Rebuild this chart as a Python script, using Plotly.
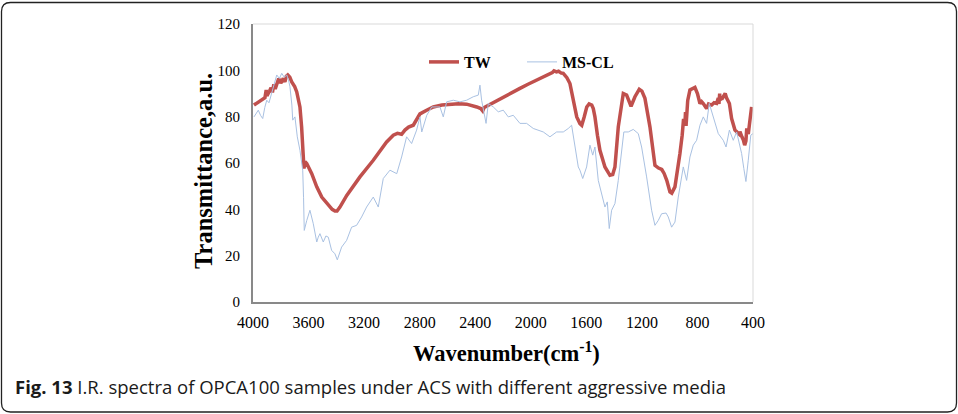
import plotly.graph_objects as go

# ---------------- data ----------------
tw_wn = [3993, 3960, 3930, 3914, 3905, 3900, 3880, 3870, 3860, 3850, 3840, 3829, 3815, 3800,
         3782, 3770, 3760, 3750, 3735, 3721, 3700, 3685, 3662, 3650, 3642, 3636, 3633, 3625,
         3613, 3577, 3541, 3505, 3458, 3430, 3410, 3395, 3374, 3325, 3230, 3134, 3038, 2990,
         2960, 2940, 2930, 2906, 2880, 2846, 2810, 2798, 2750, 2702, 2640, 2582, 2520, 2462,
         2420, 2389, 2360, 2346, 2335, 2320, 2294, 2250, 2198, 2140, 2078, 2020, 1957, 1920,
         1885, 1860, 1845, 1833, 1815, 1800, 1780, 1766, 1740, 1718, 1700, 1694, 1682, 1669,
         1646, 1633, 1615, 1597, 1580, 1561, 1550, 1538, 1520, 1502, 1466, 1430, 1410, 1394,
         1370, 1334, 1310, 1278, 1250, 1219, 1200, 1178, 1142, 1106, 1080, 1057, 1040, 1021,
         998, 985, 962, 945, 926, 910, 900, 890, 886, 882, 878, 870, 854, 818, 800, 782,
         770, 758, 734, 720, 698, 680, 662, 650, 645, 640, 638, 630, 625, 614, 600, 590,
         570, 554, 530, 500, 494, 480, 470, 460, 451, 445, 434, 425, 410, 400]
tw_val = [85.0, 86.5, 87.9, 88.2, 91.5, 89.0, 91.2, 92.5, 90.5, 94.0, 92.0, 94.3, 96.5, 94.5,
          96.5, 95.0, 97.5, 98.0, 97.0, 95.0, 93.0, 90.7, 84.2, 75.6, 67.0, 60.0, 57.6, 60.5,
          59.8, 55.4, 49.7, 45.3, 41.7, 40.0, 39.3, 39.3, 41.0, 46.0, 54.0, 61.2, 69.1, 72.0,
          72.8, 72.6, 72.4, 74.2, 75.5, 76.3, 79.9, 81.2, 82.8, 84.2, 85.0, 85.4, 85.6, 85.4,
          84.9, 84.2, 83.5, 82.5, 84.0, 84.5, 85.4, 86.8, 88.6, 90.3, 92.2, 94.0, 95.8, 96.8,
          97.9, 98.2, 99.0, 99.8, 99.3, 99.6, 98.8, 98.7, 96.8, 94.3, 89.0, 87.1, 83.0, 79.9,
          77.0, 76.3, 80.0, 84.2, 85.5, 85.0, 83.5, 79.9, 72.0, 65.5, 58.3, 54.7, 55.0, 58.3,
          75.6, 90.0, 89.3, 84.5, 88.6, 91.8, 91.0, 87.9, 75.6, 59.0, 57.8, 57.2, 55.5, 52.5,
          47.5, 47.0, 49.7, 56.0, 64.1, 72.0, 79.0, 77.1, 82.0, 76.0, 82.8, 87.0, 91.5, 92.6,
          90.0, 85.7, 86.5, 85.7, 83.5, 85.5, 85.0, 86.0, 85.7, 88.0, 85.5, 90.0, 87.0, 88.6,
          87.5, 88.6, 90.0, 88.0, 85.7, 79.2, 74.2, 72.5, 73.5, 71.3, 70.0, 67.7, 69.5, 74.9,
          72.5, 77.0, 84.2]

ms_wn = [3993, 3980, 3962, 3945, 3930, 3915, 3901, 3885, 3865, 3850, 3829, 3810, 3793, 3775,
         3757, 3745, 3734, 3720, 3714, 3698, 3681, 3662, 3642, 3636, 3631, 3613, 3590, 3566,
         3541, 3530, 3518, 3494, 3475, 3458, 3445, 3434, 3410, 3393, 3362, 3326, 3290, 3254,
         3218, 3182, 3134, 3098, 3062, 3014, 2965, 2930, 2894, 2858, 2822, 2798, 2785, 2749,
         2713, 2654, 2630, 2606, 2558, 2510, 2462, 2414, 2378, 2366, 2354, 2337, 2322, 2306,
         2270, 2234, 2198, 2162, 2126, 2078, 2030, 1982, 1946, 1910, 1862, 1814, 1766, 1730,
         1706, 1694, 1682, 1670, 1658, 1646, 1626, 1598, 1574, 1554, 1538, 1514, 1490, 1466,
         1449, 1435, 1418, 1394, 1370, 1346, 1330, 1298, 1262, 1226, 1202, 1166, 1130, 1106,
         1082, 1058, 1026, 1010, 986, 962, 938, 902, 878, 854, 830, 806, 782, 758, 734, 715,
         686, 650, 614, 594, 570, 542, 518, 482, 466, 451, 434, 416, 400]
ms_val = [79.9, 81.0, 82.8, 80.5, 79.2, 84.0, 87.1, 86.0, 90.0, 93.0, 98.0, 96.5, 98.7, 97.0,
          98.0, 96.0, 92.9, 85.0, 78.5, 79.9, 71.3, 65.5, 56.9, 45.0, 30.9, 35.2, 39.6, 33.8,
          25.9, 28.0, 29.5, 25.9, 28.5, 28.0, 24.5, 22.3, 20.8, 18.2, 23.7, 26.6, 32.3, 33.1,
          36.7, 41.0, 45.3, 41.0, 53.3, 56.9, 55.4, 62.6, 71.3, 68.4, 74.2, 79.9, 73.4, 80.6,
          84.2, 84.2, 79.9, 86.4, 87.1, 86.4, 87.1, 88.6, 89.3, 93.6, 87.1, 81.4, 77.1, 85.7,
          84.2, 82.1, 82.8, 79.9, 80.6, 77.1, 77.1, 74.9, 74.2, 73.4, 71.3, 73.4, 73.4, 74.9,
          76.3, 71.3, 66.9, 61.2, 58.3, 56.9, 53.3, 58.3, 67.7, 63.4, 66.9, 52.5, 46.8, 41.0,
          43.2, 31.7, 39.6, 42.5, 52.5, 65.5, 73.4, 73.4, 74.5, 72.7, 66.9, 54.0, 39.6, 33.1,
          35.2, 38.1, 38.4, 36.7, 32.3, 34.5, 45.3, 58.3, 52.5, 62.6, 67.7, 69.8, 76.3, 79.9,
          77.1, 85.7, 79.9, 72.7, 69.8, 66.9, 74.2, 69.8, 73.4, 64.1, 57.6, 52.0, 61.2, 72.0,
          72.7]

x_ticks = [4000, 3600, 3200, 2800, 2400, 2000, 1600, 1200, 800, 400]
y_ticks = [0, 20, 40, 60, 80, 100, 120]

# ---------------- layout geometry (pixels) ----------------
W, H = 958, 414
L, R, T, B = 253, 753, 24, 302  # plot area in pixels


def px2paper(x, y):
    return (x - L) / (R - L), (B - y) / (B - T)


def frame_path(x0, y0, x1, y1, r):
    def p(x, y):
        a, b = px2paper(x, y)
        return f"{a:.5f},{b:.5f}"
    return (f"M {p(x0 + r, y0)} L {p(x1 - r, y0)} Q {p(x1, y0)} {p(x1, y0 + r)} "
            f"L {p(x1, y1 - r)} Q {p(x1, y1)} {p(x1 - r, y1)} "
            f"L {p(x0 + r, y1)} Q {p(x0, y1)} {p(x0, y1 - r)} "
            f"L {p(x0, y0 + r)} Q {p(x0, y0)} {p(x0 + r, y0)} Z")


serif = "Liberation Serif, Times New Roman, serif"

fig = go.Figure()
fig.add_trace(go.Scatter(x=tw_wn, y=tw_val, mode="lines", name="TW",
                         line=dict(color="#C0504D", width=3.5)))
fig.add_trace(go.Scatter(x=ms_wn, y=ms_val, mode="lines", name="MS-CL",
                         line=dict(color="#A9C1E2", width=1)))

fig.update_layout(
    width=W, height=H,
    margin=dict(l=L, r=W - R, t=T, b=H - B, pad=0),
    paper_bgcolor="white", plot_bgcolor="white",
    font=dict(family=serif, color="black"),
    showlegend=True,
    legend=dict(orientation="h", x=px2paper(424, 0)[0], y=px2paper(0, 45)[1],
                xanchor="left", yanchor="top", bgcolor="rgba(0,0,0,0)",
                font=dict(family=serif, size=16, color="black", weight="bold"),
                itemwidth=30, entrywidth=53, tracegroupgap=0),
    xaxis=dict(range=[4000, 400], tickvals=x_ticks, ticktext=[str(v) for v in x_ticks],
               showgrid=False, zeroline=False, showline=True, linecolor="#898989",
               linewidth=2, ticks="", ticklabelstandoff=5,
               tickfont=dict(family=serif, size=16, color="black")),
    yaxis=dict(range=[0, 120], tickvals=y_ticks, showgrid=False, zeroline=False,
               showline=True, linecolor="#898989", linewidth=2, ticks="",
               ticklabelstandoff=8,
               tickfont=dict(family=serif, size=15, color="black")),
    shapes=[
        dict(type="line", xref="paper", yref="paper", x0=0, x1=1, y0=1, y1=1,
             line=dict(color="#D9D9D9", width=1)),
        dict(type="line", xref="paper", yref="paper", x0=1, x1=1, y0=0, y1=1,
             line=dict(color="#D9D9D9", width=1)),
        dict(type="path", xref="paper", yref="paper",
             path=frame_path(1.5, 2.5, 956.5, 412, 9),
             line=dict(color="#222222", width=1.3)),
    ],
    annotations=[
        dict(text="Transmittance,a.u.", textangle=-90, xref="paper", yref="paper",
             x=px2paper(203, 0)[0], y=px2paper(0, 171)[1], showarrow=False,
             xanchor="center", yanchor="middle",
             font=dict(family=serif, size=24.5, color="black", weight="bold")),
        dict(text="Wavenumber(cm<sup>-1</sup>)", xref="paper", yref="paper",
             x=px2paper(506, 0)[0], y=px2paper(0, 352)[1], showarrow=False,
             xanchor="center", yanchor="middle",
             font=dict(family=serif, size=22.5, color="black", weight="bold")),
        dict(text="<b>Fig. 13</b> I.R. spectra of OPCA100 samples under ACS with different aggressive media",
             xref="paper", yref="paper", x=px2paper(13, 0)[0], y=px2paper(0, 387)[1],
             showarrow=False, xanchor="left", yanchor="middle",
             font=dict(family="Open Sans, Noto Sans, sans-serif", size=18.5, color="#1a1a1a")),
    ],
)

fig.write_html("out.html")
